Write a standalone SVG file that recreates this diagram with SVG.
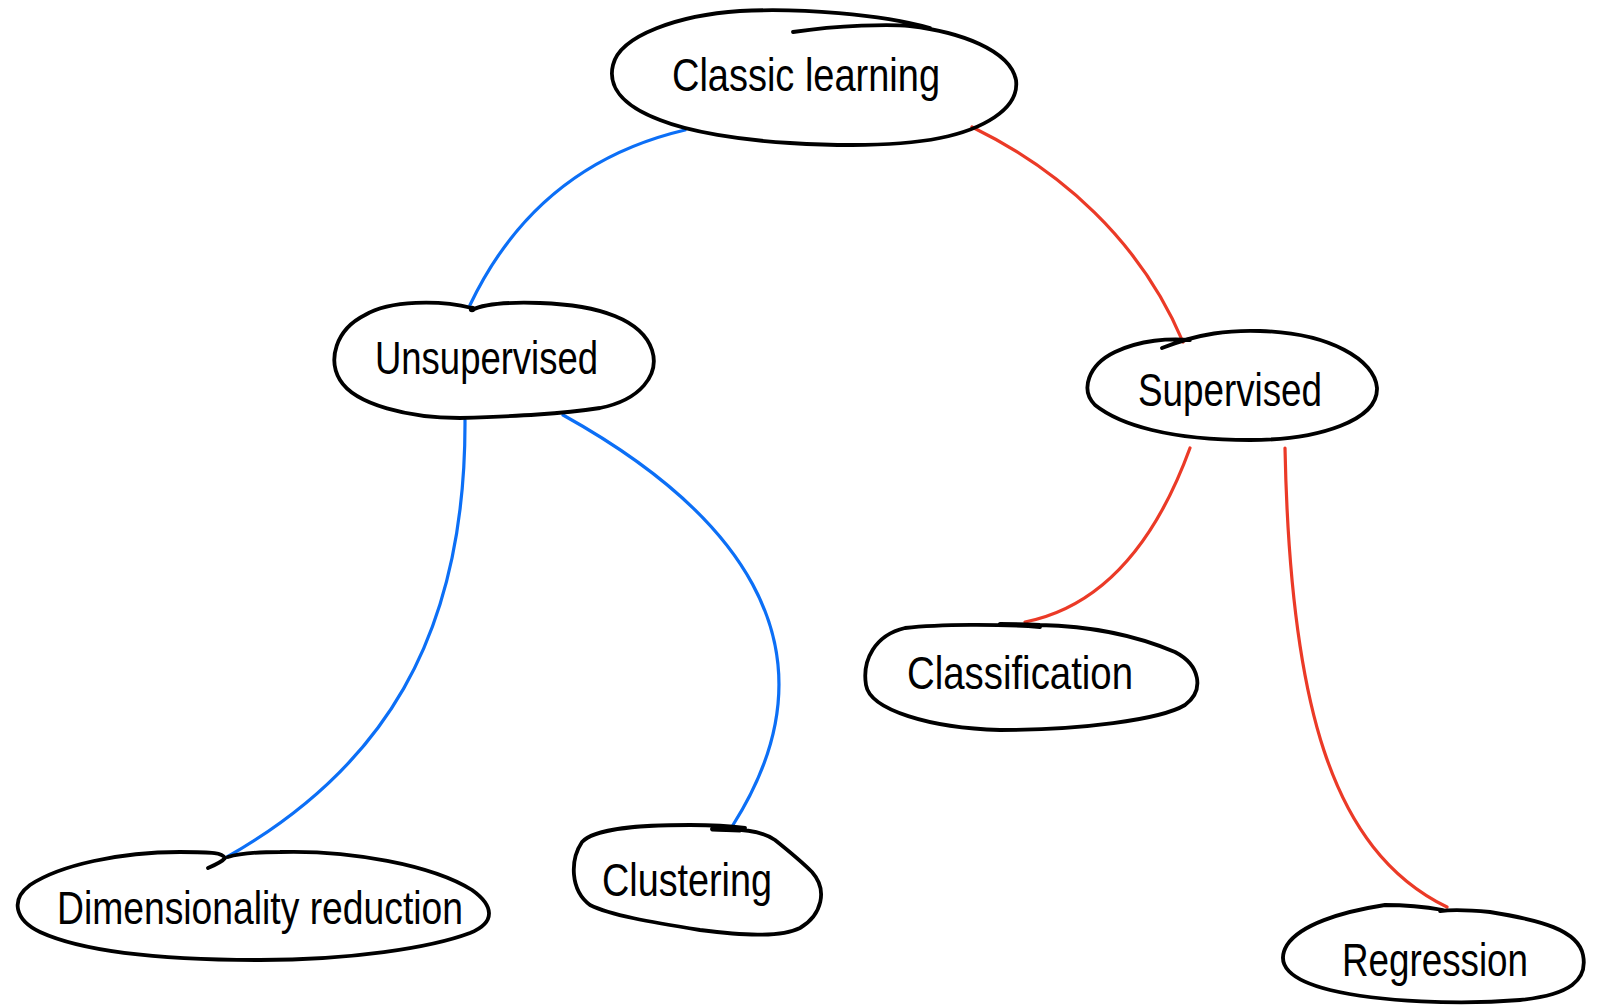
<svg xmlns="http://www.w3.org/2000/svg" width="1597" height="1005" viewBox="0 0 1597 1005">
<style>
.node path{fill:none;stroke:#000;stroke-width:3.8;stroke-linecap:round;stroke-linejoin:round}
.node text{font-family:"Liberation Sans",Arial,sans-serif;font-size:46px;fill:#000}
.edge{fill:none;stroke-width:3.2;stroke-linecap:round}
.blue{stroke:#0c6ff6}
.red{stroke:#eb3a27}
</style>
<rect width="1597" height="1005" fill="#fff"/>
<g id="connectors">
<path class="edge blue" d="M685,130 C600,150 520,200 470,305"/>
<path class="edge red" d="M972,127 C1060,170 1140,240 1183,342"/>
<path class="edge blue" d="M465,420 C466,640 380,770 227,857"/>
<path class="edge blue" d="M563,415 C725,505 850,640 733,825"/>
<path class="edge red" d="M1190,448 C1160,530 1110,605 1025,622"/>
<path class="edge red" d="M1285,448 C1290,700 1330,850 1447,907"/>
</g>
<g id="classic" class="node">
<path d="M793,32 C840,25 890,24 910,26 C960,32 1010,50 1016,80 C1020,110 980,130 940,138 C900,146 840,146 790,143 C740,140 690,132 660,120 C620,105 608,85 613,65 C620,35 680,15 740,11 C800,8 880,14 930,28"/>
<text x="672" y="91" textLength="268" lengthAdjust="spacingAndGlyphs">Classic learning</text>
</g>
<g id="unsupervised" class="node">
<path d="M472,308 C440,300 390,300 365,315 C335,330 328,360 340,380 C355,405 410,418 460,418 C520,416 560,414 600,408 C640,400 660,375 652,350 C642,320 600,305 540,303 C510,302 485,303 472,310"/>
<circle cx="472" cy="309" r="3.2" fill="#000"/>
<text x="375" y="374" textLength="223" lengthAdjust="spacingAndGlyphs">Unsupervised</text>
</g>
<g id="supervised" class="node">
<path d="M1162,348 C1200,333 1230,330 1260,331 C1330,333 1375,360 1377,388 C1378,420 1320,440 1250,440 C1170,440 1120,425 1095,405 C1080,390 1088,365 1115,352 C1140,340 1170,338 1190,340"/>
<text x="1138" y="406" textLength="184" lengthAdjust="spacingAndGlyphs">Supervised</text>
</g>
<g id="dimred" class="node">
<path d="M208,868 C215,865 222,862 225,858 C222,853 215,852 180,852 C120,852 60,865 30,885 C10,900 15,920 40,932 C90,955 180,960 260,960 C350,960 430,948 470,933 C497,922 493,905 472,890 C432,865 350,850 280,852 C260,852 240,853 228,857"/>
<text x="57" y="924" textLength="406" lengthAdjust="spacingAndGlyphs">Dimensionality reduction</text>
</g>
<g id="clustering" class="node">
<path d="M712,829 C740,829 760,830 775,840 C790,852 800,860 812,872 C828,890 822,915 800,928 C780,938 740,935 700,930 C650,922 610,915 590,905 C570,890 570,860 582,842 C595,828 640,825 690,825 C710,825 730,826 745,828"/>
<path d="M713,829 L740,830" style="stroke-width:5"/>
<text x="602" y="896" textLength="170" lengthAdjust="spacingAndGlyphs">Clustering</text>
</g>
<g id="classification" class="node">
<path d="M1040,627 C1000,624 940,624 905,628 C875,635 862,660 866,685 C870,710 930,728 1000,730 C1080,730 1160,720 1185,705 C1205,690 1200,665 1175,652 C1135,635 1090,626 1040,625 C1020,624 1010,624 1000,624"/>
<text x="907" y="689" textLength="226" lengthAdjust="spacingAndGlyphs">Classification</text>
</g>
<g id="regression" class="node">
<path d="M1443,910 C1420,906 1400,905 1385,905 C1340,912 1300,925 1287,945 C1275,965 1290,980 1330,990 C1380,1002 1460,1005 1520,1000 C1570,995 1588,980 1583,955 C1578,930 1540,920 1490,912 C1470,910 1455,909 1440,911"/>
<text x="1342" y="976" textLength="186" lengthAdjust="spacingAndGlyphs">Regression</text>
</g>
</svg>
